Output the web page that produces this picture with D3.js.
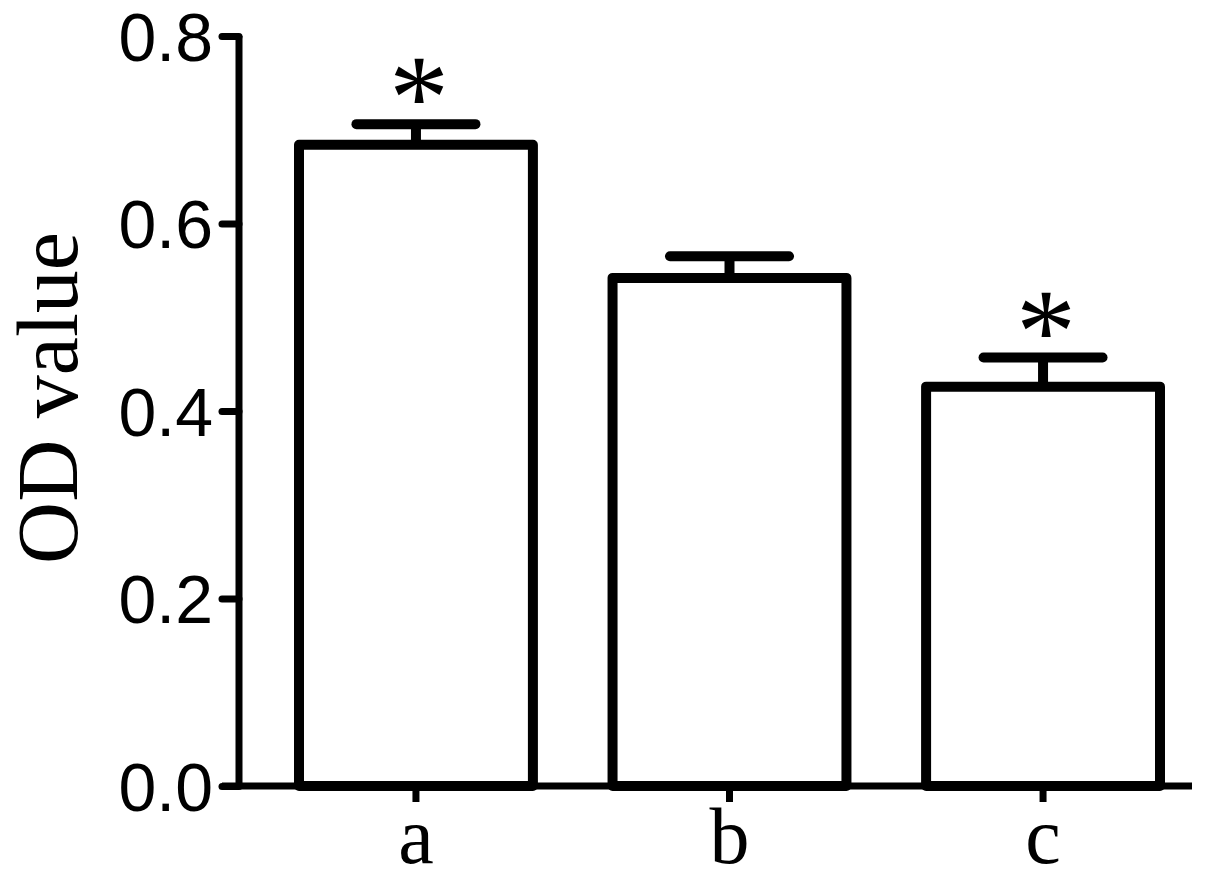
<!DOCTYPE html>
<html>
<head>
<meta charset="utf-8">
<script src="https://cdn.jsdelivr.net/npm/d3@7/dist/d3.min.js"></script>
<style>
  html, body { margin: 0; padding: 0; background: #fff; }
  svg { display: block; }
</style>
</head>
<body>
<svg id="chart" width="1205" height="881"></svg>
<script>
const categories = ["a", "b", "c"];
const means = [0.684, 0.542, 0.426];
const errors = [0.022, 0.023, 0.031];
const significant = [true, false, true];
const yTicks = [0.0, 0.2, 0.4, 0.6, 0.8];
const yLabel = "OD value";

const svg = d3.select("#chart");
const y = d3.scaleLinear().domain([0, 0.8]).range([786, 36]);
const x = d3.scaleBand().domain(categories).range([299, 1160]).paddingInner(0.254).paddingOuter(0);
const axisX = 239;

const g = svg.append("g");

categories.forEach((c, i) => {
  const x0 = x(c), bw = x.bandwidth();
  g.append("rect")
    .attr("x", x0).attr("y", y(means[i]))
    .attr("width", bw).attr("height", y(0) - y(means[i]))
    .attr("fill", "#fff").attr("stroke", "#000").attr("stroke-width", 10)
    .attr("stroke-linejoin", "round");
  const cx = x0 + bw / 2;
  g.append("line")
    .attr("x1", cx).attr("x2", cx)
    .attr("y1", y(means[i])).attr("y2", y(means[i] + errors[i]))
    .attr("stroke", "#000").attr("stroke-width", 10);
  g.append("line")
    .attr("x1", cx - 59.5).attr("x2", cx + 59.5)
    .attr("y1", y(means[i] + errors[i])).attr("y2", y(means[i] + errors[i]))
    .attr("stroke", "#000").attr("stroke-width", 10).attr("stroke-linecap", "round");
  if (significant[i]) {
    g.append("text")
      .attr("x", cx + 3).attr("y", y(means[i] + errors[i]) - 42 + 56)
      .attr("text-anchor", "middle")
      .attr("font-family", "'Liberation Serif', 'Times New Roman', serif")
      .attr("font-size", 120)
      .text("*");
  }
});

const yAxis = d3.axisLeft(y).tickValues(yTicks).tickFormat(d3.format(".1f")).tickSize(17).tickPadding(9);
const ya = svg.append("g").attr("transform", `translate(${axisX},0)`).call(yAxis);
ya.select(".domain").attr("stroke", "#000").attr("stroke-width", 7)
  .attr("d", `M0,${y(0.8)}V${y(0)}`);
ya.selectAll(".tick line").attr("stroke", "#000").attr("stroke-width", 7).attr("stroke-linecap", "round");
ya.selectAll(".tick text")
  .attr("font-family", "'Liberation Sans', Arial, sans-serif")
  .attr("font-size", 68).attr("fill", "#000").attr("dy", "0.36em");

const xAxis = d3.axisBottom(x).tickSize(16).tickPadding(8);
const xa = svg.append("g").attr("transform", `translate(0,${y(0)})`).call(xAxis);
xa.select(".domain").attr("stroke", "#000").attr("stroke-width", 7)
  .attr("d", `M${axisX - 17},0H1192`);
xa.selectAll(".tick line").attr("stroke", "#000").attr("stroke-width", 7);
xa.selectAll(".tick text")
  .attr("font-family", "'Liberation Serif', 'Times New Roman', serif")
  .attr("font-size", 80).attr("fill", "#000").attr("dy", null).attr("y", 77);

svg.append("text")
  .attr("transform", `translate(77,398) rotate(-90)`)
  .attr("text-anchor", "middle")
  .attr("font-family", "'Liberation Serif', 'Times New Roman', serif")
  .attr("font-size", 86).attr("fill", "#000")
  .text(yLabel);
</script>
</body>
</html>
